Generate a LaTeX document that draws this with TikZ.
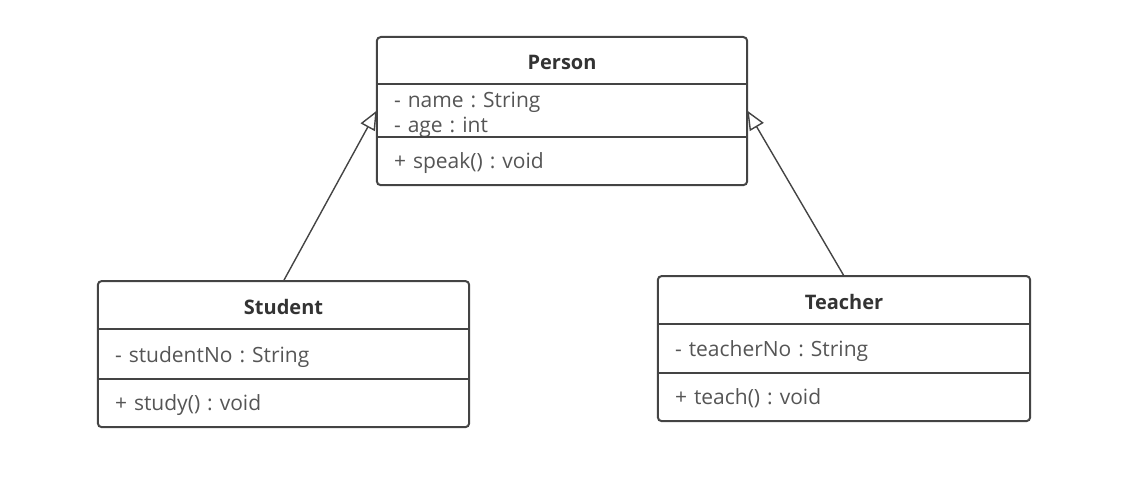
\documentclass[tikz,border=0pt]{standalone}
\usepackage{fontspec}
\setmainfont{Open Sans}
\frenchspacing
\usetikzlibrary{positioning,arrows.meta}
\definecolor{umlline}{HTML}{444444}
\definecolor{umlhead}{HTML}{333333}
\definecolor{umltext}{HTML}{555555}
\begin{document}
\begin{tikzpicture}[x=1pt,y=1pt,>={Triangle[fill=white,length=19pt,width=16pt]},
	classhead/.style={anchor=north,inner sep=0pt,text height=18pt,text depth=0pt,text=umlhead,font=\fontsize{20}{24}\selectfont\bfseries},
	classpart/.style={below=0pt of #1,inner xsep=17pt,inner ysep=0pt,text depth=0pt,text=umltext,align=left,font=\fontsize{21}{25}\selectfont},
	classbox/.style={draw=umlline,line width=2pt},
	connector/.style={draw=umlline,line width=1.4pt}]
		\useasboundingbox (0,0) rectangle (1126,-484);
		% classes
		\node[classhead,minimum width=370pt,minimum height=47pt] (person) at (562,-37) {Person};
		\node[classpart=person,text width=336pt,text depth=21pt,minimum height=52pt] (person-attr) {- name : String\\- age : int};
		\node[classpart=person-attr,text width=336pt,minimum height=48pt] (person-ops) {+ speak() : void};
		\node[classhead,minimum width=371pt,minimum height=48pt] (student) at (283.5,-281) {Student};
		\node[classpart=student,text width=337pt,minimum height=49pt] (student-attr) {- studentNo : String};
		\node[classpart=student-attr,text width=337pt,minimum height=48pt] (student-ops) {+ study() : void};
		\node[classhead,minimum width=372pt,minimum height=48pt] (teacher) at (844,-276) {Teacher};
		\node[classpart=teacher,text width=338pt,minimum height=48pt] (teacher-attr) {- teacherNo : String};
		\node[classpart=teacher-attr,text width=338pt,minimum height=48pt] (teacher-ops) {+ teach() : void};
		\foreach \cls in {person,student,teacher} {
			\draw[classbox,rounded corners=4pt] (\cls.north west) rectangle (\cls-ops.south east);
			\draw[classbox] (\cls-attr.north west)--(\cls-attr.north east);
			\draw[classbox] (\cls-ops.north west)--(\cls-ops.north east);
		}
		% generalization
		\draw[connector,->] (student.north)--(person-attr.west);
		\draw[connector,->] (teacher.north)--(person-attr.east);
\end{tikzpicture}
\end{document}
